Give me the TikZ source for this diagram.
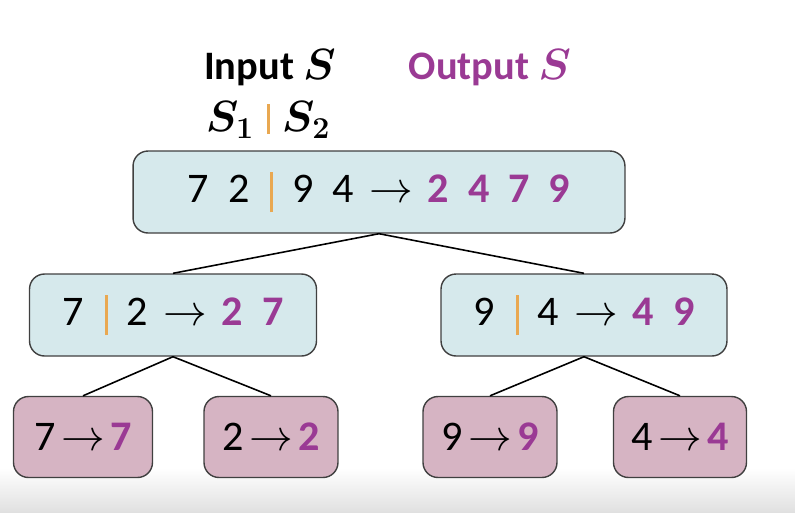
\documentclass[tikz,border=0pt]{standalone}
\usepackage{amsmath}
\usepackage{fontspec}
\setmainfont{Carlito}
\definecolor{boxblue}{HTML}{D6E9EC}
\definecolor{leafpink}{HTML}{D6B4C3}
\definecolor{outpurple}{HTML}{9A3A94}
\definecolor{barorange}{HTML}{E9A851}
\newcommand{\sep}{\hspace{0.42cm}\textcolor{barorange}{\rule[-0.2cm]{0.06cm}{0.8cm}}\hspace{0.38cm}}
\newcommand{\out}[1]{\textcolor{outpurple}{\bfseries #1}}
\newcommand{\gap}{\hspace{0.38cm}}
\newcommand{\goesto}{\hspace{0.3cm}$\rightarrow$\hspace{0.3cm}}
\newcommand{\leafto}{\hspace{0.13cm}$\rightarrow$\hspace{0.1cm}}

\begin{document}
\begin{tikzpicture}[x=0.02cm,y=-0.02cm]
	\tikzstyle{merge}=[draw=black!75, fill=boxblue, rounded corners=0.3cm, minimum height=1.64cm, line width=0.8pt, font=\fontsize{24}{28}\selectfont, inner sep=0pt]
	\tikzstyle{leaf}=[merge, fill=leafpink, minimum height=1.62cm]
	\tikzstyle{head}=[font=\fontsize{23}{27}\selectfont\bfseries]
	\useasboundingbox (0,0) rectangle (795,512);
	\fill[top color=white, bottom color=black!12, draw=none] (0,468) rectangle (795,512);
	% labels on top
	\node (inlabel) [head] at (270,68) {Input $\boldsymbol{S}$};
	\node (outlabel) [head, text=outpurple] at (490,68) {Output $\boldsymbol{S}$};
	\node (parts) [head] at (268,120) {$\boldsymbol{S_1}$\hspace{0.25cm}\textcolor{barorange}{\rule[-0.05cm]{0.06cm}{0.6cm}}\hspace{0.25cm}$\boldsymbol{S_2}$};
	% the tree
	\node (top) [merge, minimum width=9.84cm] at (379,192) {7\gap 2\sep 9\gap 4\goesto\out{2}\gap\out{4}\gap\out{7}\gap\out{9}};
	\node (left) [merge, minimum width=5.74cm] at (173,315) {7\sep 2\goesto\out{2}\gap\out{7}};
	\node (right) [merge, minimum width=5.72cm] at (584,315) {9\sep 4\goesto\out{4}\gap\out{9}};
	\node (leaf1) [leaf, minimum width=2.78cm] at (83,437) {7\leafto\out{7}};
	\node (leaf2) [leaf, minimum width=2.68cm] at (271,437) {2\leafto\out{2}};
	\node (leaf3) [leaf, minimum width=2.68cm] at (490,437) {9\leafto\out{9}};
	\node (leaf4) [leaf, minimum width=2.66cm] at (680,437) {4\leafto\out{4}};
	\draw[line width=0.9pt] (top.south) -- (left.north);
	\draw[line width=0.9pt] (top.south) -- (right.north);
	\draw[line width=0.9pt] (left.south) -- (leaf1.north);
	\draw[line width=0.9pt] (left.south) -- (leaf2.north);
	\draw[line width=0.9pt] (right.south) -- (leaf3.north);
	\draw[line width=0.9pt] (right.south) -- (leaf4.north);
\end{tikzpicture}
\end{document}
